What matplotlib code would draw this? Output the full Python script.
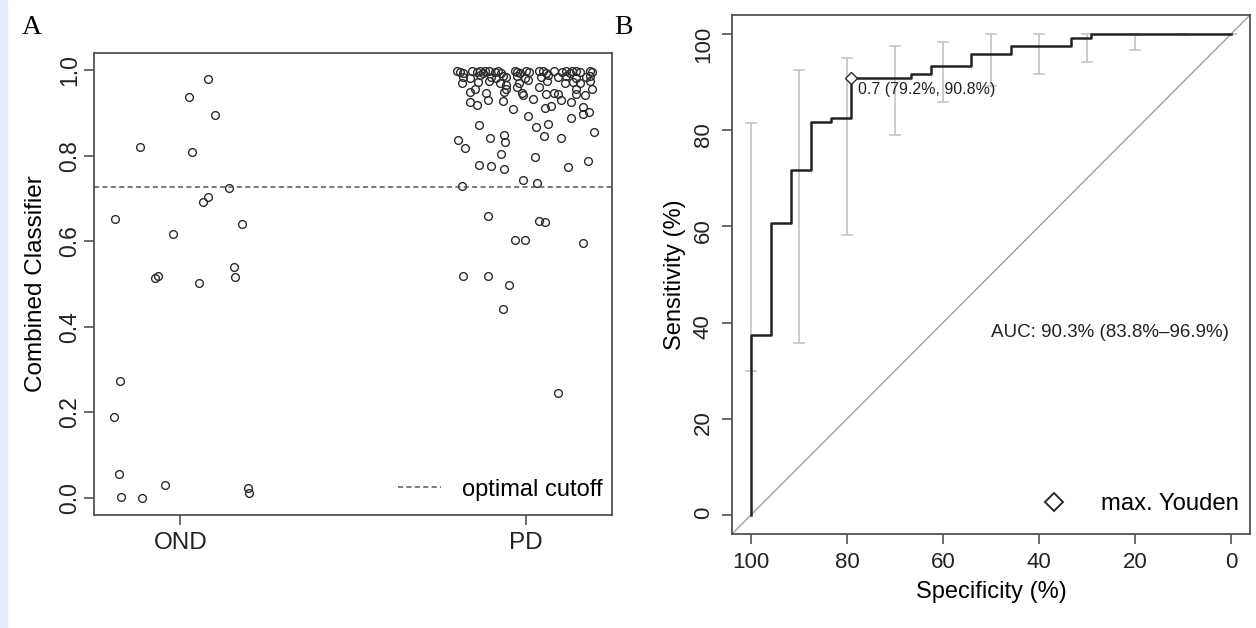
import matplotlib
matplotlib.use("Agg")
import matplotlib.pyplot as plt
from matplotlib.lines import Line2D
from matplotlib.patches import Rectangle

plt.rcParams["font.family"] = ["Liberation Sans", "DejaVu Sans"]

# ---- panel A: stripchart of the combined classifier ----
groups = ["OND", "PD"]
cutoff = 0.727

ond_values = [0.979, 0.937, 0.896, 0.820, 0.808, 0.724, 0.703, 0.691, 0.652, 0.640,
              0.617, 0.540, 0.516, 0.513, 0.519, 0.503, 0.273, 0.189, 0.055, 0.003,
              0.000, 0.029, 0.024, 0.012]
ond_jitter = [0.080, 0.026, 0.100, -0.118, 0.034, 0.142, 0.079, 0.067, -0.188, 0.178,
              -0.022, 0.156, 0.159, -0.074, -0.064, 0.054, -0.175, -0.192, -0.179, -0.173,
              -0.111, -0.044, 0.197, 0.200]

pd_values = [
    # top row (> 0.98)
    0.999, 0.996, 0.993, 0.998, 0.995, 0.999, 0.994, 0.997, 0.999, 0.995,
    0.998, 0.993, 0.999, 0.996, 0.994, 0.998, 0.995, 0.999, 0.997, 0.993,
    0.998, 0.996, 0.999, 0.994, 0.997, 0.998, 0.995, 0.999, 0.996,
    0.985, 0.982, 0.988, 0.984, 0.981, 0.986, 0.983, 0.987, 0.982, 0.985,
    0.988, 0.983, 0.986, 0.981, 0.984, 0.987,
    # 0.94 - 0.98
    0.969, 0.973, 0.975, 0.971, 0.965, 0.969, 0.977, 0.975, 0.969, 0.973,
    0.969, 0.975, 0.955, 0.955, 0.960, 0.947, 0.957, 0.955, 0.950, 0.961,
    0.946, 0.949, 0.942, 0.944, 0.946, 0.944, 0.943, 0.942,
    # 0.92 - 0.94
    0.926, 0.931, 0.927, 0.933, 0.930, 0.925,
    # 0.72 - 0.92
    0.918, 0.908, 0.911, 0.917, 0.914, 0.893, 0.888, 0.898, 0.902, 0.871,
    0.868, 0.874, 0.837, 0.818, 0.842, 0.848, 0.832, 0.845, 0.842, 0.856,
    0.805, 0.798, 0.778, 0.777, 0.769, 0.773, 0.787, 0.744, 0.736, 0.729,
    # below cutoff
    0.658, 0.648, 0.644, 0.603, 0.602, 0.597, 0.519, 0.519, 0.497, 0.441,
    0.245,
]
pd_jitter = [
    -0.200, -0.189, -0.181, -0.154, -0.142, -0.133, -0.125, -0.118, -0.106, -0.090,
    -0.080, -0.070, -0.032, -0.025, -0.015, 0.002, 0.010, 0.040, 0.050, 0.060,
    0.081, 0.106, 0.116, 0.127, 0.135, 0.147, 0.158, 0.185, 0.192,
    -0.181, -0.160, -0.131, -0.099, -0.085, -0.067, -0.058, -0.025, -0.003, 0.045,
    0.064, 0.093, 0.118, 0.147, 0.175, 0.187,
    -0.184, -0.138, -0.106, -0.075, -0.056, -0.019, 0.007, 0.062, 0.113, 0.137,
    0.158, 0.185, -0.147, -0.058, -0.025, -0.012, 0.147, 0.193, -0.160, 0.040,
    -0.116, -0.064, -0.008, 0.060, 0.081, 0.095, 0.147, 0.171,
    -0.162, -0.109, -0.065, 0.022, 0.103, 0.130,
    -0.142, -0.038, 0.056, 0.074, 0.166, 0.008, 0.130, 0.165, 0.183, -0.134,
    0.031, 0.064, -0.196, -0.176, -0.104, -0.062, -0.060, 0.052, 0.102, 0.197,
    -0.070, 0.026, -0.134, -0.100, -0.062, 0.123, 0.180, -0.007, 0.034, -0.183,
    -0.109, 0.040, 0.056, -0.031, -0.002, 0.167, -0.182, -0.108, -0.047, -0.066,
    0.095,
]

# ---- panel B: ROC curve (percent) ----
roc_spec = [100, 100, 95.8, 91.7, 87.5, 83.3, 79.2, 66.7, 62.5, 54.2, 45.8, 33.3, 29.2, 0]
roc_sens = [0, 37.5, 60.8, 71.7, 81.7, 82.5, 90.8, 91.7, 93.3, 95.8, 97.5, 99.2, 100, 100]
ci_spec = [100, 90, 80, 70, 60, 50, 40, 30, 20, 10, 0]
ci_low = [29.9, 35.8, 58.3, 79.1, 85.8, 89.2, 91.7, 94.2, 96.7, 100, 100]
ci_high = [81.6, 92.5, 95.0, 97.5, 98.3, 100, 100, 100, 100, 100, 100]
youden_spec, youden_sens = 79.2, 90.8
youden_label = "0.7 (79.2%, 90.8%)"
auc_label = "AUC: 90.3% (83.8%\u201396.9%)"

INK = "#2b2b2b"
W, H = 1256, 628
fig = plt.figure(figsize=(W / 100, H / 100), dpi=100)
fig.patches.append(Rectangle((0, 0), 7 / W, 1, transform=fig.transFigure,
                             color="#e6eff9", zorder=0))

axA = fig.add_axes([94 / W, 1 - 515 / H, 518 / W, 462 / H])
axB = fig.add_axes([732 / W, 1 - 534 / H, 518 / W, 519 / H])

for ax in (axA, axB):
    for s in ax.spines.values():
        s.set_color("#444444")
        s.set_linewidth(1.2)
    ax.tick_params(direction="out", length=7, width=1.1, color="#444444",
                   labelsize=16, labelcolor="#222222", pad=6)
    ax.tick_params(axis="y", labelrotation=90)

# panel A
xo = [1 + j for j in ond_jitter]
xp = [2 + j for j in pd_jitter]
for xs, ys in ((xo, ond_values), (xp, pd_values)):
    axA.plot(xs, ys, "o", ms=5.6, mfc="none", mec=INK, mew=1.0, ls="none")
axA.axhline(cutoff, color="#555555", lw=1.1, dashes=(3.3, 2.2),
            label="optimal cutoff")
axA.set_xlim(0.75, 2.25)
axA.set_ylim(-0.04, 1.04)
axA.set_xticks([1, 2], groups)
axA.set_yticks([0, 0.2, 0.4, 0.6, 0.8, 1.0])
axA.set_yticklabels(["0.0", "0.2", "0.4", "0.6", "0.8", "1.0"], va="center")
axA.tick_params(axis="x", labelsize=17.5, pad=5)
axA.tick_params(axis="y", labelsize=16.5, pad=2.5)
axA.set_ylabel("Combined Classifier", fontsize=17.5, labelpad=8)
axA.legend(loc="lower right", bbox_to_anchor=(1, 5 / 462), frameon=False,
           fontsize=17, handlelength=1.8, handletextpad=0.9, borderaxespad=0.0)

# panel B
axB.axline((100, 0), (0, 100), color="#a0a0a0", lw=1.0)
for s, lo, hi in zip(ci_spec, ci_low, ci_high):
    axB.plot([s, s], [lo, hi], color="#c8c8c8", lw=1.3, solid_capstyle="butt")
    for v in (lo, hi):
        axB.plot([s + 1.1, s - 1.1], [v, v], color="#c8c8c8", lw=1.3)
axB.step(roc_spec, roc_sens, where="post", color="#222222", lw=1.8)
axB.plot([youden_spec], [youden_sens], "D", ms=6, mfc="white", mec=INK, mew=1.0)
axB.annotate(youden_label, (youden_spec, youden_sens), xytext=(5, -8),
             textcoords="offset points", fontsize=11.5, color="#222222",
             ha="left", va="center")
axB.text(50, 38, auc_label, fontsize=13.5, color="#222222", ha="left", va="center")
axB.set_xlim(104, -4)
axB.set_ylim(-4, 104)
axB.set_xticks(range(100, -1, -20))
axB.set_yticks(range(0, 101, 20))
axB.set_xlabel("Specificity (%)", fontsize=17, labelpad=6)
axB.set_ylabel("Sensitivity (%)", fontsize=17, labelpad=5)
yh = Line2D([], [], marker="D", ls="none", ms=9, mfc="white", mec=INK, mew=1.4)
axB.legend([yh], ["max. Youden"], loc="lower right", bbox_to_anchor=(1, 8 / 519),
           frameon=False, fontsize=17.2, handletextpad=1.0, borderaxespad=0.05)

fig.text(22 / W, 1 - 28 / H, "A", family="Liberation Serif", fontsize=20,
         va="center", ha="left")
fig.text(614 / W, 1 - 28 / H, "B", family="Liberation Serif", fontsize=20,
         va="center", ha="left")

fig.savefig("out.png", dpi=100)
